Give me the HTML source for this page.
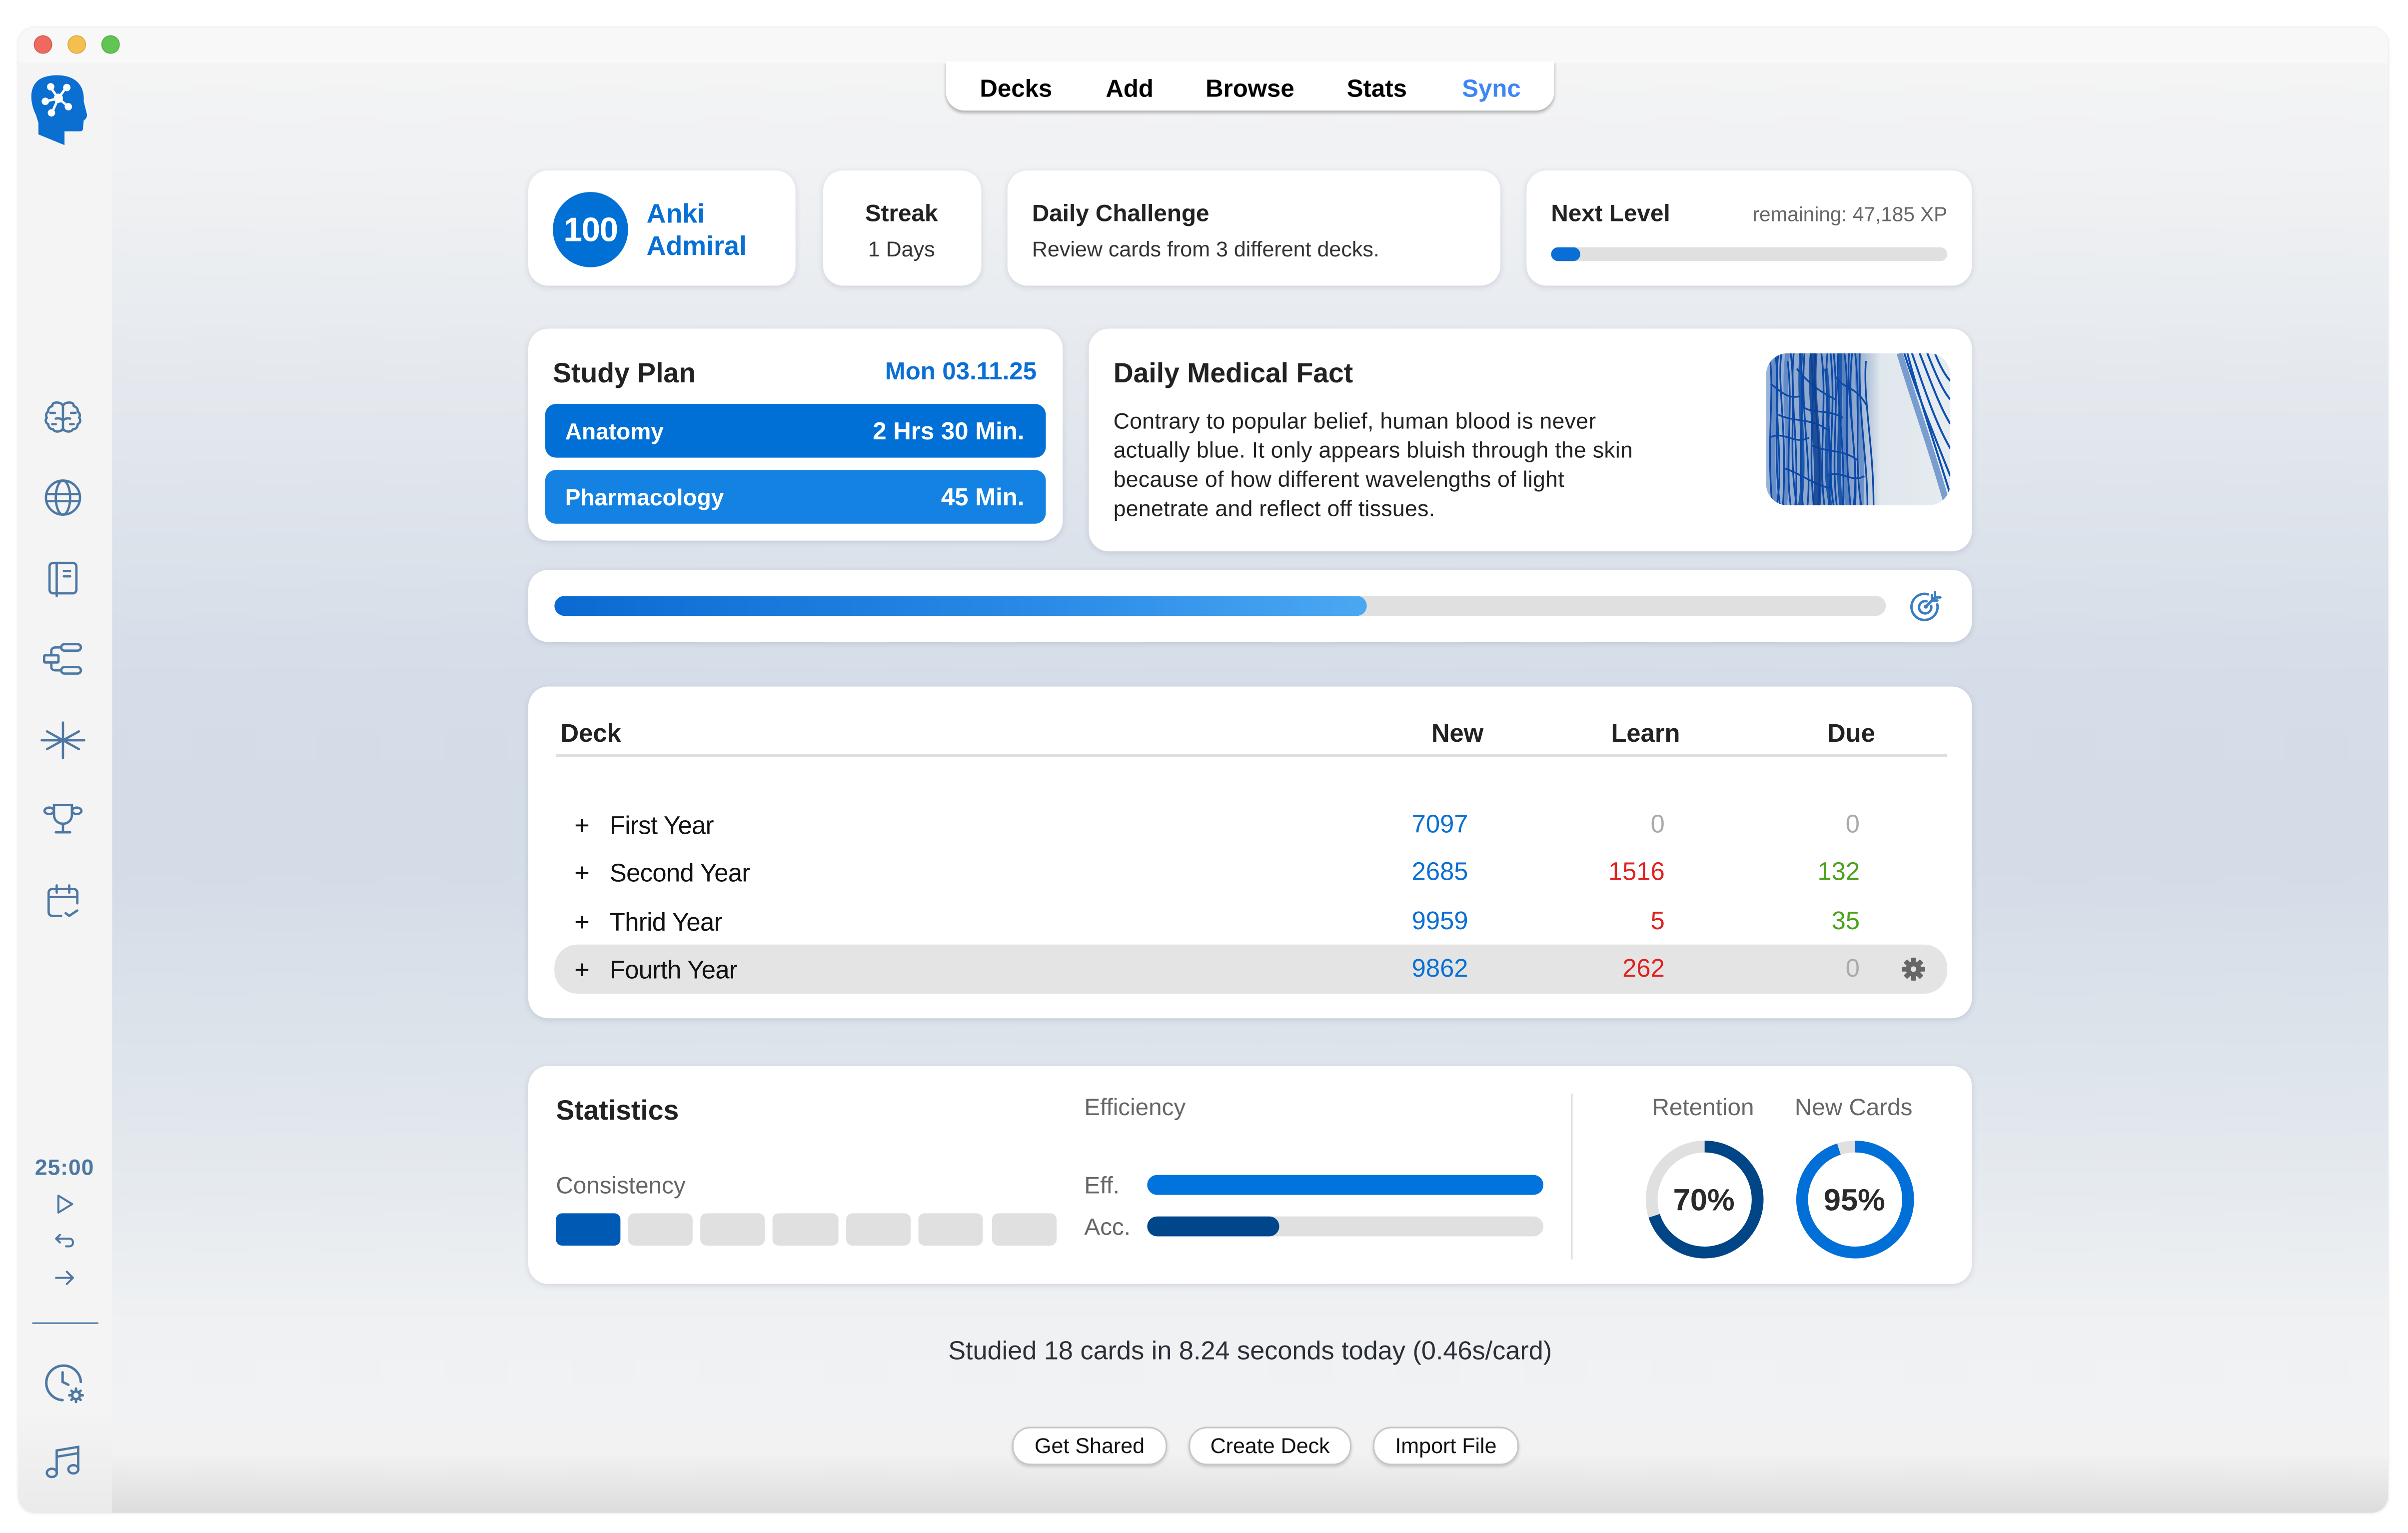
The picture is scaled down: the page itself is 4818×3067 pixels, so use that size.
<!DOCTYPE html>
<html><head><meta charset="utf-8">
<style>
html,body{margin:0;padding:0;background:#fff;width:4818px;height:3066px;overflow:hidden;}
#s{position:absolute;left:0;top:0;width:1568px;height:998px;transform:scale(3.0727);transform-origin:0 0;font-family:"Liberation Sans",Arial,sans-serif;color:#1d1d1f;}
.a{position:absolute;}
.card{position:absolute;background:#fff;border-radius:13px;box-shadow:0 1px 4px rgba(40,60,90,.14);}
.t{position:absolute;white-space:nowrap;line-height:20px;height:20px;}
.r{text-align:right;}
.c{text-align:center;}
.b{font-weight:bold;}
.btn{position:absolute;top:929px;height:23px;background:#fff;border:1px solid #c6c6c6;border-radius:12px;box-shadow:0 1px 2px rgba(0,0,0,.18);font-size:14px;line-height:23px;text-align:center;color:#111;}
</style></head><body><div id="s">

<!-- window -->
<div class="a" style="left:12px;top:18px;width:1543px;height:967px;border-radius:11px;overflow:hidden;background:#f4f4f4;box-shadow:0 0 2px rgba(0,0,0,.12);">
  <div class="a" style="left:0;top:0;width:1543px;height:23px;background:#f8f8f8;"></div>
  <div class="a" style="left:61px;top:23px;width:1482px;height:944px;background:linear-gradient(to bottom,#f4f4f4 0px,#eff1f3 80px,#e5e9ee 200px,#d5dde8 400px,#d3dce7 520px,#e0e6ec 680px,#eff1f3 820px,#f2f2f3 905px,#dcdcdc 944px);"></div>
  <div class="a" style="left:0;top:900px;width:61px;height:67px;background:linear-gradient(to bottom,rgba(0,0,0,0),rgba(0,0,0,.04));"></div>
</div>

<!-- traffic lights -->
<div class="a" style="left:21.5px;top:23px;width:12px;height:12px;border-radius:50%;background:#ee6a5f;box-shadow:inset 0 0 0 .5px #d0564b;"></div>
<div class="a" style="left:43.5px;top:23px;width:12px;height:12px;border-radius:50%;background:#f5bf4f;box-shadow:inset 0 0 0 .5px #d6a03a;"></div>
<div class="a" style="left:65.5px;top:23px;width:12px;height:12px;border-radius:50%;background:#61c554;box-shadow:inset 0 0 0 .5px #4ea642;"></div>

<!-- logo -->
<svg class="a" style="left:0;top:0" width="80" height="100" viewBox="0 0 80 100">
  <path d="M23.5 75 C19 66 19 56 26 51.5 C31 48.5 41 48 47 51 C53 54 55 60 54.5 66 L56.5 74 C57 76 56 77.5 54.5 78.5 L54 84 C54 85 53 85.5 52 85.5 L44 85.5 L42 85.5 L42 94.5 L25 87.5 L25 80 C24.5 78 24 77 23.5 75 Z" fill="#0a6fd0"/>
  <g stroke="#fff" stroke-width="1.6" fill="#fff" stroke-linecap="round">
    <line x1="38" y1="64" x2="33" y2="57"/>
    <line x1="38" y1="64" x2="43" y2="57"/>
    <line x1="38" y1="64" x2="30" y2="66"/>
    <line x1="38" y1="64" x2="44" y2="69"/>
    <line x1="38" y1="64" x2="34" y2="73"/>
    <circle cx="38" cy="64" r="2.2"/>
    <circle cx="33" cy="56.5" r="1.6"/>
    <circle cx="43.5" cy="57" r="1.6"/>
    <circle cx="29.5" cy="66" r="1.6"/>
    <circle cx="44.5" cy="69.5" r="1.6"/>
    <circle cx="33.5" cy="73.5" r="1.6"/>
  </g>
</svg>

<!-- sidebar icons -->
<svg class="a" style="left:27px;top:258px" width="28" height="28" viewBox="0 0 24 24" fill="none" stroke="#4d78a3" stroke-width="1.3" stroke-linecap="round" stroke-linejoin="round">
  <path d="M12 5v14"/>
  <path d="M12 5.5c-.5-1.5-2-2-3.5-2S6 4 6 5.5C4.5 6 3.5 7 3.8 8.6 2.5 9.3 2.3 11 3 12c-1 1-.8 3 .8 3.6 0 1.6 1 2.8 2.6 2.8.8 1.4 2.6 1.6 4 1 .8-.3 1.3-.8 1.6-1.4"/>
  <path d="M12 5.5c.5-1.5 2-2 3.5-2S18 4 18 5.5c1.5.5 2.5 1.5 2.2 3.1 1.3.7 1.5 2.4.8 3.4 1 1 .8 3-.8 3.6 0 1.6-1 2.8-2.6 2.8-.8 1.4-2.600 1.6-4 1-.8-.3-1.3-.8-1.6-1.4"/>
  <path d="M5 9.3h2.5M19 9.3h-2.5M8 12.5c1.5-.5 3 0 4 1M16 12.5c-1.5-.5-3 0-4 1M6 15.6h2M18 15.6h-2"/>
</svg>
<svg class="a" style="left:27px;top:310px" width="28" height="28" viewBox="0 0 24 24" fill="none" stroke="#4d78a3" stroke-width="1.3">
  <circle cx="12" cy="12" r="9.5"/>
  <ellipse cx="12" cy="12" rx="4" ry="9.5"/>
  <path d="M2.8 10h18.4M2.8 14h18.4"/>
</svg>
<svg class="a" style="left:27px;top:363px" width="28" height="28" viewBox="0 0 24 24" fill="none" stroke="#4d78a3" stroke-width="1.3" stroke-linecap="round">
  <rect x="4.5" y="3" width="15" height="17" rx="2"/>
  <path d="M8.5 3v18.5M12.5 7.5h3.5M12.5 10.5h3.5"/>
</svg>
<svg class="a" style="left:27px;top:415px" width="28" height="28" viewBox="0 0 24 24" fill="none" stroke="#4d78a3" stroke-width="1.3" stroke-linecap="round">
  <rect x="1.5" y="10" width="8" height="4" rx=".5"/>
  <rect x="11" y="3.8" width="11" height="3.6" rx="1.8"/>
  <rect x="11" y="16.6" width="11" height="3.6" rx="1.8"/>
  <path d="M5.5 10V7.5c0-1.2 1-1.9 2.5-1.9h3M5.5 14v2.5c0 1.2 1 1.9 2.5 1.9h3"/>
</svg>
<svg class="a" style="left:26px;top:468px" width="30" height="28" viewBox="0 0 26 24" fill="none" stroke="#4d78a3" stroke-width="1.3" stroke-linecap="round">
  <path d="M13 2v20M1 12h24M4 7l18 10M4 17l18-10"/>
</svg>
<svg class="a" style="left:27px;top:520px" width="28" height="28" viewBox="0 0 24 24" fill="none" stroke="#4d78a3" stroke-width="1.3" stroke-linecap="round">
  <path d="M7 3.5h10v5.5c0 3-2.2 5-5 5s-5-2-5-5z"/>
  <ellipse cx="4.3" cy="6.8" rx="2.6" ry="1.8"/>
  <ellipse cx="19.7" cy="6.8" rx="2.6" ry="1.8"/>
  <path d="M12 14v4.5M8 18.8h8"/>
</svg>
<svg class="a" style="left:27px;top:573px" width="28" height="28" viewBox="0 0 24 24" fill="none" stroke="#4d78a3" stroke-width="1.3" stroke-linecap="round" stroke-linejoin="round">
  <path d="M11 20H6a2 2 0 0 1-2-2V7a2 2 0 0 1 2-2h12a2 2 0 0 1 2 2v6"/>
  <path d="M4 9.5h16M8.5 3v4M15.5 3v4M13.5 18.5l2 1.5 4.5-3"/>
</svg>

<div class="t b c" style="left:2px;top:751px;width:80px;font-size:14.5px;color:#4d78a3;letter-spacing:.3px;">25:00</div>
<svg class="a" style="left:34px;top:776px" width="16" height="16" viewBox="0 0 16 16" fill="none" stroke="#4d78a3" stroke-width="1.3" stroke-linejoin="round"><path d="M4 2.5l9 5.5-9 5.5z"/></svg>
<svg class="a" style="left:34px;top:800px" width="16" height="16" viewBox="0 0 16 16" fill="none" stroke="#4d78a3" stroke-width="1.3" stroke-linecap="round" stroke-linejoin="round"><path d="M5 4L2.5 6.5 5 9M2.5 6.5h8.5c1.7 0 2.5 1 2.5 2.5s-.8 2.5-2.5 2.5H9"/></svg>
<svg class="a" style="left:34px;top:824px" width="16" height="16" viewBox="0 0 16 16" fill="none" stroke="#4d78a3" stroke-width="1.3" stroke-linecap="round" stroke-linejoin="round"><path d="M2.5 8h11M9.5 4l4 4-4 4"/></svg>
<div class="a" style="left:21px;top:861px;width:43px;height:1px;background:#4d78a3;"></div>
<svg class="a" style="left:27px;top:886px" width="30" height="30" viewBox="0 0 24 24" fill="none" stroke="#4d78a3" stroke-width="1.3" stroke-linecap="round">
  <path d="M20.5 11A9 9 0 1 0 11 20.5"/>
  <path d="M11 6v5l3 1.5"/>
  <circle cx="18" cy="18" r="2"/>
  <path d="M18 14.5v1.3M18 20.2v1.3M14.5 18h1.3M20.2 18h1.3M15.6 15.6l.9.9M19.5 19.5l.9.9M15.6 20.4l.9-.9M19.5 16.5l.9-.9"/>
</svg>
<svg class="a" style="left:27px;top:938px" width="28" height="28" viewBox="0 0 24 24" fill="none" stroke="#4d78a3" stroke-width="1.3" stroke-linecap="round">
  <path d="M8.5 18V5.5l12-2V16"/>
  <path d="M8.5 9l12-2"/>
  <ellipse cx="5.8" cy="18" rx="2.8" ry="2.3"/>
  <ellipse cx="17.8" cy="16" rx="2.8" ry="2.3"/>
</svg>

<!-- nav -->
<div class="a" style="left:616px;top:40px;width:396px;height:32px;background:#fff;border-radius:0 0 12px 12px;box-shadow:0 1.5px 2px rgba(0,0,0,.28);"></div>
<div class="t b" style="left:638px;top:48.5px;font-size:16px;color:#000;">Decks</div>
<div class="t b" style="left:720px;top:48.5px;font-size:16px;color:#000;">Add</div>
<div class="t b" style="left:785px;top:48.5px;font-size:16px;color:#000;">Browse</div>
<div class="t b" style="left:877px;top:48.5px;font-size:16px;color:#000;">Stats</div>
<div class="t b" style="left:952px;top:48.5px;font-size:16px;color:#3d86f4;">Sync</div>

<!-- row 1 cards -->
<div class="card" style="left:344px;top:111px;width:174px;height:75px;"></div>
<div class="a" style="left:360px;top:125px;width:49px;height:49px;border-radius:50%;background:#0070d4;"></div>
<div class="t b c" style="left:344px;top:140px;width:81px;font-size:22px;color:#fff;letter-spacing:-.5px;">100</div>
<div class="t b" style="left:421px;top:129px;font-size:17.5px;color:#0a6fd4;">Anki</div>
<div class="t b" style="left:421px;top:150px;font-size:17.5px;color:#0a6fd4;">Admiral</div>

<div class="card" style="left:536px;top:111px;width:103px;height:75px;"></div>
<div class="t b c" style="left:537px;top:129.5px;width:100px;font-size:15.5px;color:#222;">Streak</div>
<div class="t c" style="left:537px;top:152px;width:100px;font-size:14px;color:#333;">1 Days</div>

<div class="card" style="left:656px;top:111px;width:321px;height:75px;"></div>
<div class="t b" style="left:672px;top:129.5px;font-size:15.5px;color:#222;">Daily Challenge</div>
<div class="t" style="left:672px;top:152px;font-size:14px;color:#333;">Review cards from 3 different decks.</div>

<div class="card" style="left:994px;top:111px;width:290px;height:75px;"></div>
<div class="t b" style="left:1010px;top:129.5px;font-size:15.5px;color:#222;">Next Level</div>
<div class="t r" style="left:1068px;top:130px;width:200px;font-size:13.2px;color:#666;">remaining: 47,185 XP</div>
<div class="a" style="left:1010px;top:161px;width:258px;height:9px;border-radius:5px;background:#e0e0e0;overflow:hidden;"><div style="width:19px;height:9px;border-radius:5px;background:#0a6fd4;"></div></div>

<!-- study plan -->
<div class="card" style="left:344px;top:214px;width:348px;height:138px;"></div>
<div class="t b" style="left:360px;top:233px;font-size:18px;color:#222;">Study Plan</div>
<div class="t b r" style="left:475px;top:233px;width:200px;font-size:16px;color:#0a6fd4;">Mon 03.11.25</div>
<div class="a" style="left:355px;top:263px;width:326px;height:35px;border-radius:7px;background:#0070d6;"></div>
<div class="t b" style="left:368px;top:272px;font-size:15px;color:#fff;">Anatomy</div>
<div class="t b r" style="left:467px;top:272px;width:200px;font-size:16px;color:#fff;">2 Hrs 30 Min.</div>
<div class="a" style="left:355px;top:306px;width:326px;height:35px;border-radius:7px;background:#1382e2;"></div>
<div class="t b" style="left:368px;top:315px;font-size:15px;color:#fff;">Pharmacology</div>
<div class="t b r" style="left:467px;top:315px;width:200px;font-size:16px;color:#fff;">45 Min.</div>

<!-- medical fact -->
<div class="card" style="left:709px;top:214px;width:575px;height:145px;"></div>
<div class="t b" style="left:725px;top:233px;font-size:18px;color:#222;">Daily Medical Fact</div>
<div class="t" style="left:725px;top:265px;font-size:14.5px;color:#222;letter-spacing:.1px;">Contrary to popular belief, human blood is never</div>
<div class="t" style="left:725px;top:284px;font-size:14.5px;color:#222;letter-spacing:.1px;">actually blue. It only appears bluish through the skin</div>
<div class="t" style="left:725px;top:303px;font-size:14.5px;color:#222;letter-spacing:.1px;">because of how different wavelengths of light</div>
<div class="t" style="left:725px;top:322px;font-size:14.5px;color:#222;letter-spacing:.1px;">penetrate and reflect off tissues.</div>
<div class="a" style="left:1150px;top:230px;width:120px;height:99px;border-radius:14px;overflow:hidden;">
<svg width="120" height="99" viewBox="0 0 120 99">
  <defs><linearGradient id="ib" x1="0" x2="1" y1="0" y2="0"><stop offset="0" stop-color="#9db4d4"/><stop offset=".45" stop-color="#7d9cc8"/><stop offset=".56" stop-color="#b9c9dc"/><stop offset=".62" stop-color="#e0e7ed"/><stop offset="1" stop-color="#e6ecf0"/></linearGradient></defs>
  <rect width="120" height="99" fill="url(#ib)"/>
  <g fill="none" stroke="#2a62b8" stroke-width="3" opacity=".45">
    <path d="M4 0C8 30 2 60 6 99"/><path d="M14 0C10 30 18 60 12 99"/><path d="M50 0C54 30 48 60 53 99"/><path d="M60 0C58 30 64 60 62 99"/>
  </g>
  <g fill="none" stroke="#0b48a8" stroke-width="1.1">
    <path d="M2 0C6 25 0 55 4 99"/><path d="M6 0C10 30 4 60 9 99"/><path d="M10 0C7 20 14 50 11 99"/>
    <path d="M14 5C18 35 12 70 16 99"/><path d="M18 0C15 30 22 60 19 99"/><path d="M22 0C26 25 20 65 24 99"/>
    <path d="M25 0C22 40 30 70 27 99"/><path d="M29 0C33 30 27 60 31 99"/><path d="M32 0C30 35 37 65 34 99"/>
    <path d="M36 0C40 30 34 70 38 99"/><path d="M40 0C37 25 44 55 41 99"/><path d="M44 0C48 35 42 65 46 99"/>
    <path d="M47 0C45 30 52 60 50 99"/><path d="M51 0C55 25 50 55 55 99"/><path d="M54 0C52 30 60 65 58 99"/>
    <path d="M58 0C62 35 57 70 62 99"/><path d="M61 0C60 40 66 70 66 99"/><path d="M65 5C63 30 70 60 70 99"/>
    <path d="M8 0C4 35 12 70 7 99"/><path d="M16 0C20 30 14 65 20 99"/><path d="M42 0C46 40 39 70 44 99"/><path d="M56 0C52 40 61 70 57 99"/>
    <path d="M20 10C28 20 35 25 45 30"/><path d="M8 40C18 45 30 42 40 50"/><path d="M30 60C40 65 50 62 60 70"/>
    <path d="M12 75C22 78 30 85 42 88"/><path d="M45 15C52 25 58 20 66 35"/><path d="M3 20C10 25 14 30 22 28"/>
    <path d="M2 55C12 50 18 60 28 55"/><path d="M40 80C48 75 55 85 64 80"/><path d="M24 35C32 40 40 36 50 42"/>
  </g>
  <g fill="none" stroke="#0a3f92" stroke-width="5" opacity=".85">
    <path d="M31 0C28 30 36 60 33 99"/>
  </g>
  <g fill="none" stroke="#0b4aa5" stroke-width="2.4" opacity=".85">
    <path d="M39 10C43 40 36 70 42 99"/><path d="M23 0C20 30 27 70 22 99"/><path d="M48 0C50 40 45 70 49 99"/>
  </g>
  <g fill="none" stroke="#0d4fae" stroke-width="1.3">
    <path d="M90 0C98 25 108 50 120 80"/><path d="M95 0C102 20 110 45 120 62"/><path d="M100 0C106 15 113 35 120 46"/>
    <path d="M105 0C109 10 115 25 120 30"/><path d="M110 0C113 8 117 15 120 18"/><path d="M92 0C100 30 110 60 120 92"/>
  </g>
  <g fill="none" stroke="#0d4fae" stroke-width="4" opacity=".5">
    <path d="M87 0C96 30 107 60 118 99"/>
  </g>
</svg>
</div>

<!-- progress -->
<div class="card" style="left:344px;top:371px;width:940px;height:47px;"></div>
<div class="a" style="left:361px;top:388px;width:867px;height:13px;border-radius:7px;background:#e0e0e0;overflow:hidden;"><div style="width:529px;height:13px;border-radius:7px;background:linear-gradient(to right,#0a6ad2,#2a8ae6 60%,#4aa8f2);"></div></div>
<svg class="a" style="left:1242px;top:383px" width="24" height="24" viewBox="0 0 24 24" fill="none" stroke="#3a7cc2" stroke-width="1.6" stroke-linecap="round">
  <path d="M19.5 10.5A8.5 8.5 0 1 1 13.5 4"/>
  <path d="M15.5 11.5A4 4 0 1 1 12.5 8.5"/>
  <circle cx="12" cy="12" r="1.3" fill="#3a7cc2" stroke="none"/>
  <path d="M12 12l6-6M16 4.5v3.5h3.5M18 2.5v3.5h3.5"/>
</svg>

<!-- deck table -->
<div class="card" style="left:344px;top:447px;width:940px;height:216px;"></div>
<div class="t b" style="left:365px;top:468px;font-size:16.5px;color:#222;">Deck</div>
<div class="t b r" style="left:866px;top:468px;width:100px;font-size:16.5px;color:#222;">New</div>
<div class="t b r" style="left:994px;top:468px;width:100px;font-size:16.5px;color:#222;">Learn</div>
<div class="t b r" style="left:1121px;top:468px;width:100px;font-size:16.5px;color:#222;">Due</div>
<div class="a" style="left:362px;top:491px;width:906px;height:1.5px;background:#dedede;"></div>
<div class="a" style="left:361px;top:615px;width:907px;height:32px;border-radius:15px;background:#e4e4e4;"></div>

<div class="t" style="left:374px;top:528px;font-size:17px;color:#111;">+</div>
<div class="t" style="left:397px;top:528px;font-size:16.5px;color:#111;letter-spacing:-.2px;">First Year</div>
<div class="t r" style="left:856px;top:527px;width:100px;font-size:16.5px;color:#0a6fd4;">7097</div>
<div class="t r" style="left:984px;top:527px;width:100px;font-size:16.5px;color:#aaa;">0</div>
<div class="t r" style="left:1111px;top:527px;width:100px;font-size:16.5px;color:#aaa;">0</div>

<div class="t" style="left:374px;top:559px;font-size:17px;color:#111;">+</div>
<div class="t" style="left:397px;top:559px;font-size:16.5px;color:#111;letter-spacing:-.2px;">Second Year</div>
<div class="t r" style="left:856px;top:558px;width:100px;font-size:16.5px;color:#0a6fd4;">2685</div>
<div class="t r" style="left:984px;top:558px;width:100px;font-size:16.5px;color:#e0201f;">1516</div>
<div class="t r" style="left:1111px;top:558px;width:100px;font-size:16.5px;color:#4aa31a;">132</div>

<div class="t" style="left:374px;top:591px;font-size:17px;color:#111;">+</div>
<div class="t" style="left:397px;top:591px;font-size:16.5px;color:#111;letter-spacing:-.2px;">Thrid Year</div>
<div class="t r" style="left:856px;top:590px;width:100px;font-size:16.5px;color:#0a6fd4;">9959</div>
<div class="t r" style="left:984px;top:590px;width:100px;font-size:16.5px;color:#e0201f;">5</div>
<div class="t r" style="left:1111px;top:590px;width:100px;font-size:16.5px;color:#4aa31a;">35</div>

<div class="t" style="left:374px;top:622px;font-size:17px;color:#111;">+</div>
<div class="t" style="left:397px;top:622px;font-size:16.5px;color:#111;letter-spacing:-.2px;">Fourth Year</div>
<div class="t r" style="left:856px;top:621px;width:100px;font-size:16.5px;color:#0a6fd4;">9862</div>
<div class="t r" style="left:984px;top:621px;width:100px;font-size:16.5px;color:#e0201f;">262</div>
<div class="t r" style="left:1111px;top:621px;width:100px;font-size:16.5px;color:#aaa;">0</div>
<svg class="a" style="left:1238px;top:623px" width="16" height="16" viewBox="0 0 16 16">
  <g fill="#666" transform="translate(8 8)">
    <circle r="5"/>
    <rect x="-1.6" y="-7.5" width="3.2" height="15" rx=".6"/>
    <rect x="-1.6" y="-7.5" width="3.2" height="15" rx=".6" transform="rotate(45)"/>
    <rect x="-1.6" y="-7.5" width="3.2" height="15" rx=".6" transform="rotate(90)"/>
    <rect x="-1.6" y="-7.5" width="3.2" height="15" rx=".6" transform="rotate(135)"/>
    <circle r="1.8" fill="#e4e4e4"/>
  </g>
</svg>

<!-- statistics -->
<div class="card" style="left:344px;top:694px;width:940px;height:142px;"></div>
<div class="t b" style="left:362px;top:713px;font-size:18px;color:#222;">Statistics</div>
<div class="t" style="left:706px;top:712px;font-size:15.5px;color:#666;">Efficiency</div>
<div class="a" style="left:1023px;top:712px;width:1px;height:108px;background:#dcdcdc;"></div>
<div class="t c" style="left:1049px;top:712px;width:120px;font-size:15.5px;color:#666;">Retention</div>
<div class="t c" style="left:1147px;top:712px;width:120px;font-size:15.5px;color:#666;">New Cards</div>
<div class="t" style="left:362px;top:763px;font-size:15.5px;color:#666;">Consistency</div>
<div class="a" style="left:362px;top:790px;width:42px;height:21px;border-radius:4px;background:#0059b3;"></div>
<div class="a" style="left:409px;top:790px;width:42px;height:21px;border-radius:4px;background:#e0e0e0;"></div>
<div class="a" style="left:456px;top:790px;width:42px;height:21px;border-radius:4px;background:#e0e0e0;"></div>
<div class="a" style="left:503px;top:790px;width:43px;height:21px;border-radius:4px;background:#e0e0e0;"></div>
<div class="a" style="left:551px;top:790px;width:42px;height:21px;border-radius:4px;background:#e0e0e0;"></div>
<div class="a" style="left:598px;top:790px;width:42px;height:21px;border-radius:4px;background:#e0e0e0;"></div>
<div class="a" style="left:646px;top:790px;width:42px;height:21px;border-radius:4px;background:#e0e0e0;"></div>
<div class="t" style="left:706px;top:763px;font-size:15.5px;color:#666;">Eff.</div>
<div class="a" style="left:747px;top:765px;width:258px;height:13px;border-radius:7px;background:#0073dc;"></div>
<div class="t" style="left:706px;top:790px;font-size:15.5px;color:#666;">Acc.</div>
<div class="a" style="left:747px;top:792px;width:258px;height:13px;border-radius:7px;background:#e0e0e0;overflow:hidden;"><div style="width:86px;height:13px;border-radius:7px;background:#00468a;"></div></div>

<svg class="a" style="left:1069.5px;top:740.5px" width="80" height="80" viewBox="0 0 80 80">
  <circle cx="40" cy="40" r="34.5" fill="none" stroke="#e0e0e0" stroke-width="7.7"/>
  <circle cx="40" cy="40" r="34.5" fill="none" stroke="#004585" stroke-width="7.7" stroke-dasharray="151.74 216.77" transform="rotate(-90 40 40)"/>
</svg>
<div class="t b c" style="left:1059.5px;top:772px;width:100px;font-size:20px;color:#2a2a2a;">70%</div>
<svg class="a" style="left:1167.5px;top:740.5px" width="80" height="80" viewBox="0 0 80 80">
  <circle cx="40" cy="40" r="34.5" fill="none" stroke="#e0e0e0" stroke-width="7.7"/>
  <circle cx="40" cy="40" r="34.5" fill="none" stroke="#0070d8" stroke-width="7.7" stroke-dasharray="205.93 216.77" transform="rotate(-90 40 40)"/>
</svg>
<div class="t b c" style="left:1157.5px;top:772px;width:100px;font-size:20px;color:#2a2a2a;">95%</div>

<!-- footer -->
<div class="t c" style="left:514px;top:870px;width:600px;font-size:17px;color:#2b2f36;">Studied 18 cards in 8.24 seconds today (0.46s/card)</div>
<div class="btn" style="left:659px;width:99px;">Get Shared</div>
<div class="btn" style="left:774px;width:104px;">Create Deck</div>
<div class="btn" style="left:894px;width:93px;">Import File</div>

</div></body></html>
